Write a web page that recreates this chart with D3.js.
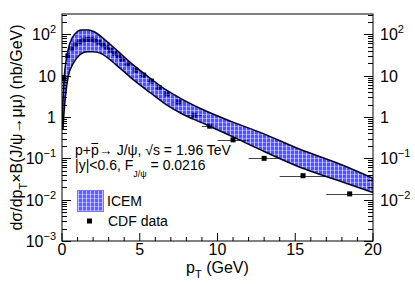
<!DOCTYPE html>
<html>
<head>
<meta charset="utf-8">
<script src="https://cdn.jsdelivr.net/npm/d3@7"></script>
<style>
  body { margin: 0; background: #fff; }
  svg { display: block; font-family: "Liberation Sans", Arial, sans-serif; }
</style>
</head>
<body>
<svg width="415" height="284"></svg>
<script>
// CDF data, |y|<0.6 (nb/GeV)
const cdfPt  = [0.125, 0.375, 0.625, 0.875, 1.125, 1.375, 1.625, 1.875, 2.125, 2.375, 2.625, 2.875,
                3.125, 3.375, 3.625, 3.875, 4.25, 4.75, 5.25, 5.75, 6.25, 6.75, 7.5, 8.5, 9.5, 11, 13, 15.5, 18.5];
const cdfVal = [9, 30, 45, 57, 66, 72, 75, 74, 71, 64, 56, 49,
                41, 35, 30, 25, 19, 13.5, 10.3, 7.4, 5.1, 3.6, 2.3, 1.1, 0.6, 0.28, 0.10, 0.038, 0.0138];
const cdfLo  = [0, 0.25, 0.5, 0.75, 1, 1.25, 1.5, 1.75, 2, 2.25, 2.5, 2.75,
                3, 3.25, 3.5, 3.75, 4, 4.5, 5, 5.5, 6, 6.5, 7, 8, 9, 10, 12, 14, 17];
const cdfHi  = [0.25, 0.5, 0.75, 1, 1.25, 1.5, 1.75, 2, 2.25, 2.5, 2.75, 3,
                3.25, 3.5, 3.75, 4, 4.5, 5, 5.5, 6, 6.5, 7, 8, 9, 10, 12, 14, 17, 20];

// ICEM band edges
const bandPt = [0.03, 0.13, 0.3, 0.5, 0.85, 1.25, 1.7, 2.1, 2.65, 3.5, 4.6, 5.7, 6.7, 7.8, 8.9, 11, 12.7, 15.3, 17.9, 20];
const bandUp = [1.5, 7.9, 28, 60, 104, 128, 128, 114, 80, 42, 18, 8.5, 4.5, 2.6, 1.6, 0.75, 0.43, 0.166, 0.072, 0.033];
const bandLoPt = [0.05, 0.2, 0.4, 0.73, 1.15, 1.6, 2.0, 2.45, 3.5, 4.6, 5.7, 6.7, 7.8, 8.9, 11, 12.7, 15.3, 17.9, 20];
const bandLo = [0.5, 2.6, 9.5, 20, 32, 38, 38, 35, 18, 7.9, 3.8, 2.0, 1.15, 0.75, 0.33, 0.165, 0.061, 0.028, 0.0148];

const xTicks = [0, 5, 10, 15, 20];
const yDecades = [-3, -2, -1, 0, 1, 2];

const svg = d3.select("svg");
const L = 62, R = 373, T = 14, B = 241;

const x = d3.scaleLinear().domain([0, 20]).range([L, R]);
const y = d3.scaleLog().domain([1e-3, 310]).range([B, T]);

// pattern fill, laid over the points with some transparency
const defs = svg.append("defs");
const pat = defs.append("pattern").attr("id", "hatch")
  .attr("patternUnits", "userSpaceOnUse").attr("width", 4).attr("height", 4);
pat.append("rect").attr("width", 4).attr("height", 4).attr("fill", "#0000ff");
pat.append("rect").attr("x", 2).attr("width", 1).attr("height", 4).attr("fill", "#fff").attr("opacity", 0.6);
pat.append("rect").attr("y", 2).attr("width", 4).attr("height", 1).attr("fill", "#fff").attr("opacity", 0.35);

defs.append("clipPath").attr("id", "clip").append("rect")
  .attr("x", L).attr("y", T).attr("width", R - L).attr("height", B - T);

const plot = svg.append("g").attr("clip-path", "url(#clip)");

// data points (under the band)
const pts = cdfPt.map((p, i) => ({p, v: cdfVal[i], lo: cdfLo[i], hi: cdfHi[i]}));
plot.selectAll("line.err").data(pts).enter().append("line")
  .attr("x1", d => x(d.lo)).attr("x2", d => x(d.hi))
  .attr("y1", d => Math.round(y(d.v)) + 0.5).attr("y2", d => Math.round(y(d.v)) + 0.5)
  .attr("stroke", "#444").attr("stroke-width", 1);
plot.selectAll("rect.pt").data(pts).enter().append("rect")
  .attr("x", d => x(d.p) - 2.5).attr("y", d => y(d.v) - 2.5)
  .attr("width", 5).attr("height", 5).attr("fill", "#000");

// band: upper edge forward, lower edge back
const upPts = bandPt.map((p, i) => [x(p), y(bandUp[i])]);
const loPts = bandLoPt.map((p, i) => [x(p), y(bandLo[i])]);
const edge = d3.line().curve(d3.curveMonotoneX);
const upPath = edge(upPts);
const loPath = edge(loPts);
const loBack = edge(loPts.slice().reverse());

plot.append("path")
  .attr("d", upPath + "L" + loBack.slice(1) + "Z")
  .attr("fill", "url(#hatch)").attr("opacity", 0.68);
plot.append("path").attr("d", upPath).attr("fill", "none").attr("stroke", "#00002a").attr("stroke-width", 1.5);
plot.append("path").attr("d", loPath).attr("fill", "none").attr("stroke", "#00002a").attr("stroke-width", 1.5);
plot.append("line")
  .attr("x1", upPts[0][0]).attr("y1", upPts[0][1]).attr("x2", loPts[0][0]).attr("y2", loPts[0][1])
  .attr("stroke", "#00002a").attr("stroke-width", 1.5);

// frame
svg.append("rect").attr("x", L).attr("y", T).attr("width", R - L).attr("height", B - T)
  .attr("fill", "none").attr("stroke", "#000").attr("stroke-width", 1);

// x ticks
const xg = svg.append("g");
d3.range(0, 21, 1).forEach(v => {
  const len = v % 5 === 0 ? 8 : 4;
  xg.append("line").attr("x1", x(v)).attr("x2", x(v)).attr("y1", B).attr("y2", B - len)
    .attr("stroke", "#000");
});
xg.selectAll("text").data(xTicks).enter().append("text")
  .attr("x", d => x(d)).attr("y", B + 14).attr("text-anchor", "middle")
  .attr("font-size", 16).text(d => d);

// y ticks on both sides
const yg = svg.append("g");
const yMinor = [];
yDecades.forEach(e => { for (let k = 1; k <= 9; k++) { const v = k * Math.pow(10, e); if (v <= 310) yMinor.push({v, major: k === 1}); } });
yMinor.forEach(t => {
  const len = t.major ? 9 : 5;
  const yy = Math.round(y(t.v)) + 0.5;
  yg.append("line").attr("x1", L).attr("x2", L + len).attr("y1", yy).attr("y2", yy).attr("stroke", "#000");
  yg.append("line").attr("x1", R).attr("x2", R - len).attr("y1", yy).attr("y2", yy).attr("stroke", "#000");
});

function decadeLabel(sel, e) {
  if (e === 0) { sel.text("1"); return; }
  if (e === 1) { sel.text("10"); return; }
  sel.append("tspan").text("10");
  sel.append("tspan").attr("dy", -7).attr("font-size", 11).text(e < 0 ? "\u2212" + (-e) : e);
}
yDecades.forEach(e => {
  const t = svg.append("text").attr("x", 56).attr("y", y(Math.pow(10, e)) + 6)
    .attr("text-anchor", "end").attr("font-size", 16);
  decadeLabel(t, e);
  if (e > -3) {
    const r = svg.append("text").attr("x", 380).attr("y", y(Math.pow(10, e)) + 6)
      .attr("font-size", 16);
    decadeLabel(r, e);
  }
});

// axis titles
const xt = svg.append("text").attr("x", (L + R) / 2).attr("y", 273)
  .attr("text-anchor", "middle").attr("font-size", 16);
xt.append("tspan").text("p");
xt.append("tspan").attr("dy", 5).attr("font-size", 11).text("T");
xt.append("tspan").attr("dy", -5).text(" (GeV)");

const yt = svg.append("text").attr("transform", `translate(22,${(T + B) / 2}) rotate(-90)`)
  .attr("text-anchor", "middle").attr("font-size", 16);
yt.append("tspan").text("d\u03c3/dp");
yt.append("tspan").attr("dy", 5).attr("font-size", 11).text("T");
yt.append("tspan").attr("dy", -5).text("\u00d7B(J/\u03c8\u2192\u03bc\u03bc) (nb/GeV)");

// legend
const lg = svg.append("g").attr("font-size", 14);
const l1 = lg.append("text").attr("x", 75).attr("y", 155)
  .text("p+p\u2192 J/\u03c8, \u221as = 1.96 TeV");
const n1 = l1.node();
const bx0 = n1.getStartPositionOfChar(2).x, bx1 = n1.getEndPositionOfChar(2).x;
lg.append("line").attr("x1", bx0 + 0.5).attr("x2", bx1 - 0.5).attr("y1", 143.5).attr("y2", 143.5)
  .attr("stroke", "#000").attr("stroke-width", 1);
const l2 = lg.append("text").attr("x", 75).attr("y", 170);
l2.append("tspan").text("|y|<0.6, F");
l2.append("tspan").attr("dy", 7).attr("font-size", 9).text("J/\u03c8");
l2.append("tspan").attr("dy", -7).text(" = 0.0216");

lg.append("rect").attr("x", 77.5).attr("y", 190.5).attr("width", 26).attr("height", 21)
  .attr("fill", "url(#hatch)").attr("stroke", "#2020ff").attr("opacity", 0.62);
lg.append("text").attr("x", 107).attr("y", 206).text("ICEM");
lg.append("rect").attr("x", 87).attr("y", 218.5).attr("width", 5).attr("height", 5).attr("fill", "#000");
lg.append("text").attr("x", 108).attr("y", 226).text("CDF data");
</script>
</body>
</html>
